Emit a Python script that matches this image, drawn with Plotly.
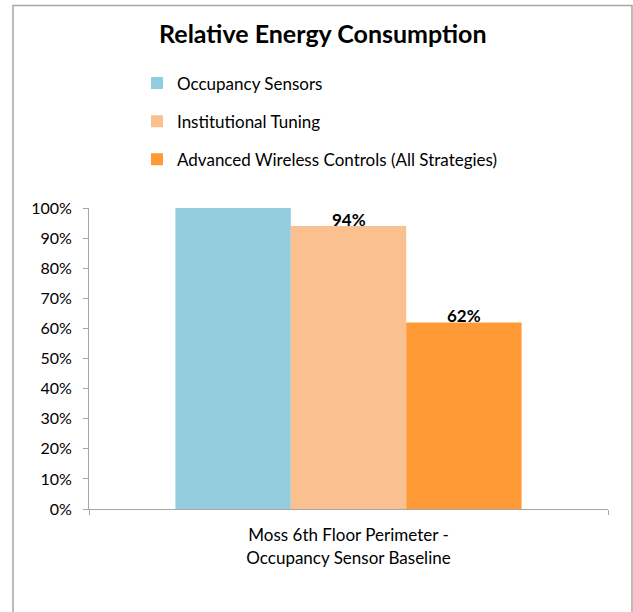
import plotly.graph_objects as go

categories = ["Moss 6th Floor Perimeter -<br>Occupancy Sensor Baseline"]
series_names = ["Occupancy Sensors", "Institutional Tuning", "Advanced Wireless Controls (All Strategies)"]
series_values = [[1.00], [0.94], [0.62]]
series_labels = [[""], ["94%"], ["62%"]]
colors = ["#93CDDD", "#FAC090", "#FF9A36"]
y_ticks = [0, 0.1, 0.2, 0.3, 0.4, 0.5, 0.6, 0.7, 0.8, 0.9, 1.0]
y_tick_labels = ["0%", "10%", "20%", "30%", "40%", "50%", "60%", "70%", "80%", "90%", "100%"]

FONT = "Lato, Carlito, Calibri, sans-serif"

W, H = 633, 612
L, R, T, B = 89, 25, 208, 103
pw = W - L - R
ph = H - T - B
BARGAP = 0.333
bar_px = pw * (1 - BARGAP) / len(series_names)

fig = go.Figure()
annotations = []
n = len(series_names)
for i, name in enumerate(series_names):
    fig.add_trace(go.Bar(
        x=categories, y=series_values[i], name=name,
        marker=dict(color=colors[i], line=dict(width=0)),
        legendgroup=f"g{i}",
    ))
    for cat, val, lab in zip(categories, series_values[i], series_labels[i]):
        if lab:
            annotations.append(dict(
                x=cat, y=val, text=f"<b>{lab}</b>", showarrow=False,
                xref="x", yref="y", yanchor="middle", yshift=7,
                xshift=(i - (n - 1) / 2) * bar_px,
                font=dict(family=FONT, size=17, color="#000000"),
            ))

def px_x(p):
    return (p - L) / pw

def px_y(p):
    return (H - B - p) / ph

fig.update_layout(
    width=W, height=H,
    margin=dict(l=L, r=R, t=T, b=B),
    paper_bgcolor="white", plot_bgcolor="white",
    barmode="group", bargap=BARGAP, bargroupgap=0,
    font=dict(family=FONT, size=16, color="#000000"),
    title=dict(text="<b>Relative Energy Consumption</b>", x=0.51, xanchor="center",
               y=1 - 34 / H, yanchor="middle",
               font=dict(family=FONT, size=25, color="#000000")),
    showlegend=True,
    legend=dict(x=px_x(137), xanchor="left", y=px_y(65.5), yanchor="top",
                font=dict(family=FONT, size=17, color="#000000"),
                tracegroupgap=13, traceorder="grouped", bgcolor="rgba(0,0,0,0)"),
    xaxis=dict(showline=True, linecolor="#A6A6A6", linewidth=1,
               ticks="outside", tickson="boundaries", ticklen=5, tickcolor="#A6A6A6",
               ticklabelstandoff=11,
               showgrid=False, tickfont=dict(family=FONT, size=17, color="#000000")),
    yaxis=dict(range=[0, 1], tickvals=y_ticks, ticktext=y_tick_labels,
               showline=True, linecolor="#A6A6A6", linewidth=1,
               ticks="outside", ticklen=5, tickcolor="#A6A6A6",
               ticklabelstandoff=8,
               showgrid=False, zeroline=False,
               tickfont=dict(family=FONT, size=16, color="#000000")),
    annotations=annotations,
    shapes=[dict(type="rect", xref="paper", yref="paper",
                 x0=px_x(13), x1=px_x(632), y0=px_y(640), y1=px_y(5.5),
                 line=dict(color="#A6A6A6", width=1.5), fillcolor="rgba(0,0,0,0)")],
)

fig.write_html("out.html", config={"displayModeBar": False},
               post_script="document.body.style.margin='0px';")
